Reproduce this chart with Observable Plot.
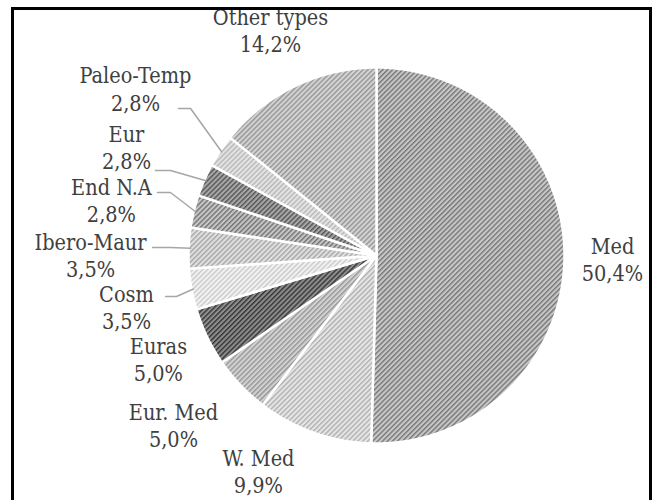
<!DOCTYPE html>
<html>
<head>
<meta charset="utf-8">
<script src="https://cdn.jsdelivr.net/npm/d3@7"></script>
<script src="https://cdn.jsdelivr.net/npm/@observablehq/plot@0.6"></script>
<style>
  html, body { margin: 0; padding: 0; background: #fff; }
  #wrap { position: relative; width: 652px; height: 500px; overflow: hidden; }
  #frame { position: absolute; left: 11px; top: 7px; width: 635px; height: 520px; border: 3px solid #000; pointer-events: none; }
</style>
</head>
<body>
<div id="wrap"><div id="chart"></div><div id="frame"></div></div>
<script>
// ---- data ----
const categories = ["Med", "W. Med", "Eur. Med", "Euras", "Cosm", "Ibero-Maur", "End N.A", "Eur", "Paleo-Temp", "Other types"];
const shares = [50.4, 9.9, 5.0, 5.0, 3.5, 3.5, 2.8, 2.8, 2.8, 14.2];

// ---- styling / layout (not data) ----
const patternBase   = ["#c8c8c8", "#e6e6e6", "#d2d2d2", "#8e8e8e", "#f2f2f2", "#e0e0e0", "#c6c6c6", "#a8a8a8", "#e4e4e4", "#d4d4d4"];
const patternStripe = ["#767676", "#b0b0b0", "#969696", "#343434", "#cacaca", "#a6a6a6", "#727272", "#545454", "#b6b6b6", "#949494"];
// label centres, in pie-radius units (pie centre = 0,0)
const labelX = [1.255, -0.628, -1.080, -1.160, -1.330, -1.521, -1.410, -1.330, -1.282, -0.564];
const labelY = [-0.019, -1.144, -0.899, -0.551, -0.271, 0.005, 0.298, 0.578, 0.889, 1.199];
// leader lines: label-side start and elbow (pie-radius units), end is on the slice
const leaders = [
  {i: 8, sx: -1.053, sy: 0.782, ex: -0.989, ey: 0.782},
  {i: 7, sx: -1.176, sy: 0.452, ex: -1.096, ey: 0.452},
  {i: 6, sx: -1.165, sy: 0.335, ex: -1.096, ey: 0.335},
  {i: 5, sx: -1.191, sy: 0.043, ex: -1.096, ey: 0.043},
  {i: 4, sx: -1.122, sy: -0.218, ex: -1.064, ey: -0.218}
];

const fmt = v => v.toFixed(1).replace(".", ",") + "%";

// slice geometry from the data
const arcs = d3.pie().sort(null).value(d => d)(shares);
const slicePts = [];
arcs.forEach((a, i) => {
  const n = Math.max(2, Math.ceil((a.endAngle - a.startAngle) / (Math.PI / 360)));
  slicePts.push({k: i, x: 0, y: 0, fill: `url(#pat${i})`});
  for (let j = 0; j <= n; j++) {
    const t = a.startAngle + (a.endAngle - a.startAngle) * j / n;
    slicePts.push({k: i, x: Math.sin(t), y: Math.cos(t), fill: `url(#pat${i})`});
  }
});

const labels = categories.map((c, i) => ({x: labelX[i], y: labelY[i], text: c + "\n" + fmt(shares[i])}));

const leaderPts = [];
leaders.forEach(l => {
  const a = arcs[l.i];
  const m = (a.startAngle + a.endAngle) / 2;
  leaderPts.push({k: l.i, x: l.sx, y: l.sy});
  leaderPts.push({k: l.i, x: l.ex, y: l.ey});
  leaderPts.push({k: l.i, x: 0.99 * Math.sin(m), y: 0.99 * Math.cos(m)});
});

const R = 188, cx = 376, cy = 255;
const chart = Plot.plot({
  width: 652,
  height: 500,
  marginLeft: cx - R,
  marginRight: 652 - (cx + R),
  marginTop: cy - R,
  marginBottom: 500 - (cy + R),
  x: {domain: [-1, 1], axis: null},
  y: {domain: [-1, 1], axis: null},
  color: {type: "identity"},
  style: {background: "transparent", overflow: "visible"},
  marks: [
    Plot.line(slicePts, {x: "x", y: "y", z: "k", fill: "fill", stroke: "#fff", strokeWidth: 2.5, curve: "linear-closed", strokeLinejoin: "round"}),
    Plot.line(leaderPts, {x: "x", y: "y", z: "k", stroke: "#a6a6a6", strokeWidth: 1.5}),
    Plot.text(labels, {x: "x", y: "y", text: "text", fontSize: 21.5, lineHeight: 1.26, fill: "#404040"})
  ]
});

// serif face for the labels
const serif = "'DejaVu Serif Condensed', 'DejaVu Serif', serif";
d3.select(chart).selectAll("text").attr("font-family", null).style("font-family", serif).style("font-stretch", "condensed");

// inject the hatch patterns
const defs = d3.select(chart).insert("defs", ":first-child");
patternBase.forEach((b, i) => {
  const p = defs.append("pattern")
    .attr("id", `pat${i}`)
    .attr("patternUnits", "userSpaceOnUse")
    .attr("width", 3.5).attr("height", 3.5)
    .attr("patternTransform", "rotate(-45)");
  p.append("rect").attr("width", 3.5).attr("height", 3.5).attr("fill", b);
  p.append("rect").attr("y", 0).attr("width", 3.5).attr("height", 1.4).attr("fill", patternStripe[i]);
});

document.getElementById("chart").appendChild(chart);
</script>
</body>
</html>
